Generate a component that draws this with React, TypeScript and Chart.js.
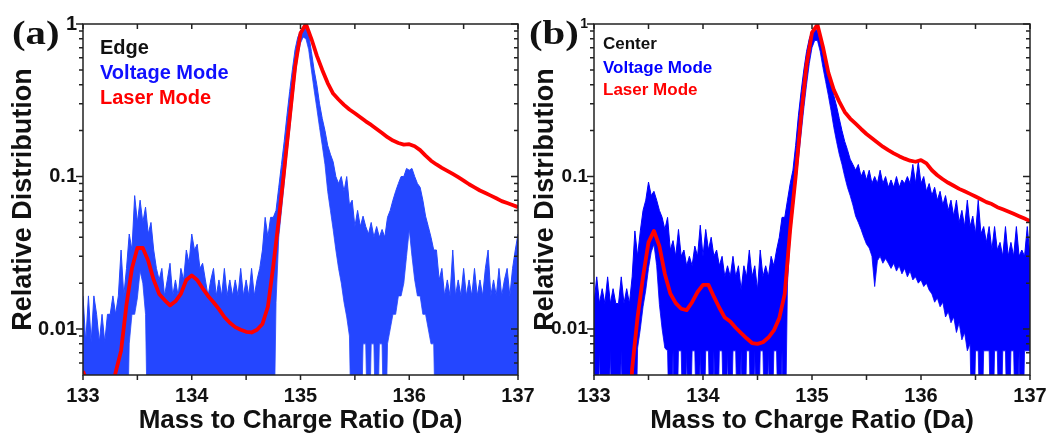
import React, { useEffect, useRef } from "react";
import { Chart, registerables } from "chart.js";

Chart.register(...registerables);

// ---------------- data ----------------
const massStart = 133;
const redStep = 0.05; // Da between red (laser) samples
const blueStep = 0.025; // Da between blue (voltage) envelope samples

const xTickLabels = [133, 134, 135, 136, 137];
const xTickMarks = [133, 133.5, 134, 134.5, 135, 135.5, 136, 136.5, 137];
const yTickLabels = [0.01, 0.1, 1];
const yMinorMarks = [
  0.006, 0.007, 0.008, 0.009,
  0.02, 0.03, 0.04, 0.05, 0.06, 0.07, 0.08, 0.09,
  0.2, 0.3, 0.4, 0.5, 0.6, 0.7, 0.8, 0.9,
];

// Panel (a) Edge — laser mode (red)
const laserEdge = [
  0.0053, 0.0042, 0.003, 0.003, 0.003, 0.0035, 0.0052, 0.0072, 0.0145, 0.025,
  0.034, 0.034, 0.028, 0.021, 0.017, 0.0155, 0.0143, 0.0152, 0.017, 0.021,
  0.0225, 0.021, 0.0185, 0.0165, 0.015, 0.0135, 0.012, 0.011, 0.0103, 0.0099,
  0.0096, 0.0095, 0.0099, 0.0108, 0.014, 0.026, 0.052, 0.11, 0.24, 0.52,
  0.87, 1.0, 0.8, 0.62, 0.5, 0.41, 0.35, 0.32, 0.295, 0.275,
  0.26, 0.245, 0.23, 0.218, 0.205, 0.193, 0.181, 0.172, 0.166, 0.162,
  0.163, 0.158, 0.149, 0.137, 0.127, 0.12, 0.114, 0.109, 0.104, 0.099,
  0.094, 0.089, 0.085, 0.081, 0.078, 0.075, 0.072, 0.069, 0.067, 0.065,
  0.063,
];

// Panel (a) Edge — voltage mode (blue) upper envelope of the noisy trace
const voltageEdgeHigh = [
  0.0165, 0.0082, 0.0165, 0.0082, 0.0165, 0.0125, 0.0082, 0.0125, 0.0082, 0.0125,
  0.0125, 0.0165, 0.0125, 0.0165, 0.033, 0.0165, 0.025, 0.042, 0.033, 0.075,
  0.05, 0.07, 0.05, 0.063, 0.042, 0.05, 0.033, 0.025, 0.021, 0.025,
  0.0165, 0.021, 0.027, 0.0165, 0.021, 0.0165, 0.025, 0.021, 0.033, 0.027,
  0.042, 0.033, 0.036, 0.025, 0.027, 0.021, 0.0165, 0.021, 0.025, 0.0165,
  0.021, 0.0165, 0.025, 0.0165, 0.021, 0.0165, 0.021, 0.0165, 0.025, 0.0165,
  0.021, 0.0165, 0.025, 0.0165, 0.021, 0.025, 0.033, 0.054, 0.04, 0.054,
  0.054, 0.06, 0.085, 0.12, 0.17, 0.25, 0.36, 0.5, 0.68, 0.82,
  0.9, 0.95, 0.94, 0.85, 0.66, 0.5, 0.4, 0.3, 0.24, 0.2,
  0.16, 0.14, 0.125, 0.1, 0.09, 0.1, 0.08, 0.1, 0.065, 0.07,
  0.047, 0.06, 0.047, 0.055, 0.047, 0.042, 0.05, 0.04, 0.047, 0.04,
  0.045, 0.04, 0.054, 0.06, 0.07, 0.08, 0.09, 0.1, 0.1, 0.113,
  0.11, 0.113, 0.1, 0.09, 0.085, 0.07, 0.055, 0.047, 0.04, 0.033,
  0.033, 0.021, 0.025, 0.0165, 0.021, 0.0165, 0.033, 0.0165, 0.021, 0.0165,
  0.025, 0.0165, 0.021, 0.0165, 0.025, 0.0165, 0.021, 0.0165, 0.025, 0.033,
  0.0165, 0.021, 0.0165, 0.025, 0.0165, 0.021, 0.025, 0.0165, 0.025, 0.033,
  0.042,
];

// Panel (a) Edge — voltage mode lower envelope (0.001 = zero counts, below axis)
const voltageEdgeLow = [
  0.001, 0.001, 0.001, 0.001, 0.001, 0.001, 0.001, 0.001, 0.001, 0.001,
  0.001, 0.001, 0.001, 0.001, 0.001, 0.001, 0.001, 0.008, 0.0125, 0.0125,
  0.016, 0.024, 0.02, 0.0125, 0.001, 0.001, 0.001, 0.001, 0.001, 0.001,
  0.001, 0.001, 0.001, 0.001, 0.001, 0.001, 0.001, 0.001, 0.001, 0.001,
  0.001, 0.001, 0.001, 0.001, 0.001, 0.001, 0.001, 0.001, 0.001, 0.001,
  0.001, 0.001, 0.001, 0.001, 0.001, 0.001, 0.001, 0.001, 0.001, 0.001,
  0.001, 0.001, 0.001, 0.001, 0.001, 0.001, 0.001, 0.001, 0.001, 0.001,
  0.001, 0.015, 0.04, 0.06, 0.09, 0.14, 0.2, 0.3, 0.45, 0.62,
  0.75, 0.82, 0.8, 0.68, 0.5, 0.37, 0.28, 0.21, 0.16, 0.12,
  0.08, 0.06, 0.045, 0.033, 0.025, 0.02, 0.015, 0.012, 0.009, 0.001,
  0.001, 0.001, 0.001, 0.008, 0.008, 0.001, 0.008, 0.008, 0.001, 0.008,
  0.008, 0.001, 0.008, 0.01, 0.0125, 0.0125, 0.0165, 0.0165, 0.02, 0.03,
  0.045, 0.03, 0.021, 0.0165, 0.0165, 0.0125, 0.0125, 0.01, 0.008, 0.008,
  0.001, 0.001, 0.001, 0.001, 0.001, 0.001, 0.001, 0.001, 0.001, 0.001,
  0.001, 0.001, 0.001, 0.001, 0.001, 0.001, 0.001, 0.001, 0.001, 0.001,
  0.001, 0.001, 0.001, 0.001, 0.001, 0.001, 0.001, 0.001, 0.001, 0.001,
  0.001,
];

// Panel (b) Center — laser mode (red)
const laserCenter = [
  0.001, 0.001, 0.001, 0.001, 0.001, 0.001, 0.001, 0.0055, 0.012, 0.022,
  0.037, 0.044, 0.035, 0.023, 0.0171, 0.0148, 0.0136, 0.0133, 0.015, 0.0175,
  0.0195, 0.0195, 0.0163, 0.0138, 0.0119, 0.0112, 0.0102, 0.0094, 0.0087, 0.0081,
  0.008, 0.0082, 0.0088, 0.0098, 0.0118, 0.017, 0.045, 0.1, 0.25, 0.54,
  0.88, 0.99, 0.71, 0.48, 0.37, 0.31, 0.265, 0.24, 0.222, 0.205,
  0.19, 0.178, 0.167, 0.157, 0.149, 0.142, 0.136, 0.131, 0.127, 0.125,
  0.128, 0.122, 0.11, 0.102, 0.096, 0.091, 0.087, 0.083, 0.08, 0.077,
  0.074, 0.071, 0.068, 0.066, 0.063, 0.061, 0.059, 0.057, 0.055, 0.053,
  0.051,
];

// Panel (b) Center — voltage mode upper envelope
const voltageCenterHigh = [
  0.0147, 0.022, 0.0147, 0.0184, 0.0147, 0.022, 0.0147, 0.0184, 0.0147, 0.0147,
  0.022, 0.0147, 0.0184, 0.0147, 0.022, 0.044, 0.03, 0.044, 0.06, 0.07,
  0.092, 0.075, 0.08, 0.07, 0.06, 0.054, 0.045, 0.054, 0.033, 0.038,
  0.03, 0.045, 0.03, 0.033, 0.026, 0.03, 0.026, 0.035, 0.03, 0.048,
  0.03, 0.045, 0.033, 0.04, 0.03, 0.033, 0.026, 0.03, 0.022, 0.026,
  0.022, 0.03, 0.022, 0.026, 0.018, 0.026, 0.022, 0.033, 0.022, 0.026,
  0.018, 0.033, 0.022, 0.026, 0.022, 0.03, 0.026, 0.033, 0.04, 0.054,
  0.054, 0.07, 0.09, 0.11, 0.16, 0.25, 0.36, 0.5, 0.66, 0.8,
  0.9, 0.94, 0.9, 0.77, 0.68, 0.58, 0.5, 0.42, 0.34, 0.29,
  0.24, 0.2, 0.17, 0.15, 0.13, 0.12, 0.11, 0.12, 0.1, 0.11,
  0.095, 0.11, 0.09, 0.1, 0.09, 0.11, 0.09, 0.1, 0.085, 0.095,
  0.085, 0.1, 0.085, 0.095, 0.09, 0.1, 0.09, 0.12, 0.09, 0.125,
  0.09, 0.1, 0.08, 0.09, 0.075, 0.085, 0.07, 0.08, 0.065, 0.075,
  0.06, 0.07, 0.055, 0.07, 0.05, 0.06, 0.047, 0.07, 0.047, 0.055,
  0.042, 0.07, 0.042, 0.047, 0.037, 0.047, 0.033, 0.047, 0.033, 0.037,
  0.03, 0.047, 0.03, 0.037, 0.03, 0.047, 0.03, 0.033, 0.03, 0.047,
  0.03,
];

// Panel (b) Center — voltage mode lower envelope
const voltageCenterLow = [
  0.001, 0.001, 0.0072, 0.001, 0.001, 0.001, 0.0072, 0.001, 0.001, 0.001,
  0.0072, 0.001, 0.001, 0.001, 0.001, 0.001, 0.0075, 0.01, 0.014, 0.018,
  0.025, 0.032, 0.036, 0.026, 0.0145, 0.01, 0.0075, 0.0072, 0.001, 0.0072,
  0.001, 0.0072, 0.0072, 0.001, 0.0072, 0.001, 0.0072, 0.0072, 0.001, 0.0072,
  0.001, 0.0072, 0.0072, 0.001, 0.0072, 0.001, 0.0072, 0.0072, 0.001, 0.0072,
  0.001, 0.0072, 0.0072, 0.001, 0.0072, 0.001, 0.0072, 0.0072, 0.001, 0.0072,
  0.001, 0.0072, 0.0072, 0.001, 0.0072, 0.001, 0.0072, 0.0072, 0.001, 0.0072,
  0.001, 0.02, 0.04, 0.06, 0.09, 0.13, 0.19, 0.28, 0.4, 0.55,
  0.7, 0.78, 0.78, 0.66, 0.52, 0.42, 0.34, 0.27, 0.21, 0.17,
  0.14, 0.12, 0.1, 0.085, 0.075, 0.065, 0.055, 0.05, 0.045, 0.04,
  0.036, 0.034, 0.03, 0.019, 0.028, 0.03, 0.027, 0.029, 0.027, 0.025,
  0.027, 0.024, 0.026, 0.023, 0.025, 0.022, 0.024, 0.021, 0.022, 0.02,
  0.021, 0.019, 0.02, 0.018, 0.017, 0.015, 0.016, 0.014, 0.015, 0.012,
  0.013, 0.011, 0.012, 0.0095, 0.011, 0.0085, 0.0095, 0.0072, 0.008, 0.001,
  0.0072, 0.0072, 0.001, 0.0072, 0.0072, 0.0072, 0.001, 0.0072, 0.0072, 0.001,
  0.0072, 0.0072, 0.001, 0.0072, 0.0072, 0.001, 0.0072, 0.001, 0.0072, 0.0072,
  0.0072,
];

// ---------------- drawing ----------------
const SANS = '"Liberation Sans", Arial, Helvetica, sans-serif';
const SERIF = '"Liberation Serif", "Times New Roman", serif';

const toPoints = (vals: number[], step: number) =>
  vals.map((y, i) => ({ x: Math.round((massStart + i * step) * 1000) / 1000, y }));

const framePlugin = {
  id: "frameTicks",
  afterDatasetsDraw(chart: any) {
    const { ctx, chartArea: a, scales } = chart;
    const xs = scales.x;
    const ys = scales.y;
    ctx.save();
    ctx.strokeStyle = "#222";
    ctx.lineWidth = 1.5;
    ctx.strokeRect(a.left, a.top, a.right - a.left, a.bottom - a.top);
    ctx.beginPath();
    for (const v of xTickMarks) {
      const px = xs.getPixelForValue(v);
      ctx.moveTo(px, a.bottom);
      ctx.lineTo(px, a.bottom + 5);
      ctx.moveTo(px, a.top);
      ctx.lineTo(px, a.top + 5);
    }
    for (const v of yMinorMarks) {
      const py = ys.getPixelForValue(v);
      ctx.moveTo(a.left, py);
      ctx.lineTo(a.left - 4, py);
      ctx.moveTo(a.right, py);
      ctx.lineTo(a.right - 4, py);
    }
    for (const v of yTickLabels) {
      const py = ys.getPixelForValue(v);
      ctx.moveTo(a.left, py);
      ctx.lineTo(a.left - 7, py);
      ctx.moveTo(a.right, py);
      ctx.lineTo(a.right - 7, py);
    }
    ctx.stroke();
    ctx.restore();
  },
};

type Panel = {
  red: number[];
  high: number[];
  low: number[];
  blue: string;
  yAxisWidth: number;
  padRight: number;
  yTitlePad: number;
  yTickSize: number;
  smallTopLabel: boolean;
};

function buildChart(canvas: HTMLCanvasElement, p: Panel) {
  return new Chart(canvas, {
    type: "line",
    data: {
      datasets: [
        {
          label: "Laser Mode",
          data: toPoints(p.red, redStep),
          borderColor: "#ff0000",
          borderWidth: 3.8,
          borderJoinStyle: "round",
          pointRadius: 0,
          fill: false,
          tension: 0,
        },
        {
          label: "Voltage Mode (low)",
          data: toPoints(p.low, blueStep),
          borderColor: p.blue,
          borderWidth: 0.8,
          pointRadius: 0,
          fill: false,
          tension: 0,
        },
        {
          label: "Voltage Mode",
          data: toPoints(p.high, blueStep),
          borderColor: p.blue,
          backgroundColor: p.blue,
          borderWidth: 1,
          pointRadius: 0,
          fill: 1,
          tension: 0,
        },
      ],
    } as any,
    options: {
      animation: false,
      responsive: false,
      maintainAspectRatio: false,
      devicePixelRatio: 1,
      events: [],
      layout: { padding: { top: 24, right: p.padRight, left: 0, bottom: 0 } },
      plugins: { legend: { display: false }, tooltip: { enabled: false } },
      scales: {
        x: {
          type: "linear",
          min: 133,
          max: 137,
          afterBuildTicks: (s: any) => {
            s.ticks = xTickLabels.map((v) => ({ value: v }));
          },
          afterFit: (s: any) => {
            s.height = 63;
            s.paddingLeft = 0;
            s.paddingRight = 0;
          },
          grid: { display: false, drawTicks: false },
          border: { display: false },
          ticks: {
            padding: 9,
            color: "#111",
            autoSkip: false,
            maxRotation: 0,
            font: { family: SANS, weight: "bold", size: 20 },
            callback: (v: any) => String(v),
          },
          title: {
            display: true,
            text: "Mass to Charge Ratio (Da)",
            color: "#111",
            font: { family: SANS, weight: "bold", size: 26 },
            padding: { top: 0, bottom: 2 },
          },
        },
        y: {
          type: "logarithmic",
          min: 0.005,
          max: 1,
          afterBuildTicks: (s: any) => {
            s.ticks = yTickLabels.map((v) => ({ value: v }));
          },
          afterFit: (s: any) => {
            s.width = p.yAxisWidth;
            s.paddingTop = 0;
            s.paddingBottom = 0;
          },
          grid: { display: false, drawTicks: false },
          border: { display: false },
          ticks: {
            padding: 6,
            color: "#111",
            autoSkip: false,
            font: (ctx: any) => ({
              family: SANS,
              weight: "bold",
              size: p.smallTopLabel && ctx.tick && ctx.tick.value === 1 ? 14 : p.yTickSize,
            }),
            callback: (v: any) => String(v),
          },
          title: {
            display: true,
            text: "Relative Distribution",
            color: "#111",
            font: { family: SANS, weight: "bold", size: 27 },
            padding: { top: p.yTitlePad, bottom: 0 },
          },
        },
      },
    } as any,
    plugins: [framePlugin],
  });
}

const textBase: React.CSSProperties = {
  position: "absolute",
  fontFamily: SANS,
  fontWeight: "bold",
  whiteSpace: "nowrap",
  margin: 0,
};

export default function App() {
  const refA = useRef<HTMLCanvasElement>(null);
  const refB = useRef<HTMLCanvasElement>(null);

  useEffect(() => {
    const a = buildChart(refA.current!, {
      red: laserEdge,
      high: voltageEdgeHigh,
      low: voltageEdgeLow,
      blue: "#2446ff",
      yAxisWidth: 83,
      padRight: 560 - 518,
      yTitlePad: 7,
      yTickSize: 20,
      smallTopLabel: false,
    });
    const b = buildChart(refB.current!, {
      red: laserCenter,
      high: voltageCenterHigh,
      low: voltageCenterLow,
      blue: "#0000ff",
      yAxisWidth: 69,
      padRight: 525 - 505,
      yTitlePad: 4,
      yTickSize: 19,
      smallTopLabel: true,
    });
    return () => {
      a.destroy();
      b.destroy();
    };
  }, []);

  const panelLabel = (left: number): React.CSSProperties => ({
    position: "absolute",
    left,
    top: 16,
    fontFamily: SERIF,
    fontWeight: "bold",
    fontSize: 34,
    lineHeight: "34px",
    transform: "scaleX(1.2)",
    transformOrigin: "left top",
    color: "#111",
  });

  return (
    <div
      style={{
        position: "absolute",
        left: 0,
        top: 0,
        width: 1050,
        height: 438,
        background: "#fff",
        overflow: "hidden",
      }}
    >
      <canvas ref={refA} width={560} height={438} style={{ position: "absolute", left: 0, top: 0 }} />
      <canvas ref={refB} width={525} height={438} style={{ position: "absolute", left: 525, top: 0 }} />

      <div style={panelLabel(12)}>(a)</div>
      <div style={panelLabel(529)}>(b)</div>

      <div style={{ ...textBase, left: 100, top: 37, fontSize: 20, lineHeight: "20px", color: "#111" }}>Edge</div>
      <div style={{ ...textBase, left: 100, top: 62, fontSize: 20, lineHeight: "20px", color: "#1010ff" }}>Voltage Mode</div>
      <div style={{ ...textBase, left: 100, top: 87, fontSize: 20, lineHeight: "20px", color: "#ff0000" }}>Laser Mode</div>

      <div style={{ ...textBase, left: 603, top: 35, fontSize: 17, lineHeight: "17px", color: "#111" }}>Center</div>
      <div style={{ ...textBase, left: 603, top: 59, fontSize: 17, lineHeight: "17px", color: "#0000ff" }}>Voltage Mode</div>
      <div style={{ ...textBase, left: 603, top: 81, fontSize: 17, lineHeight: "17px", color: "#ff0000" }}>Laser Mode</div>
    </div>
  );
}
